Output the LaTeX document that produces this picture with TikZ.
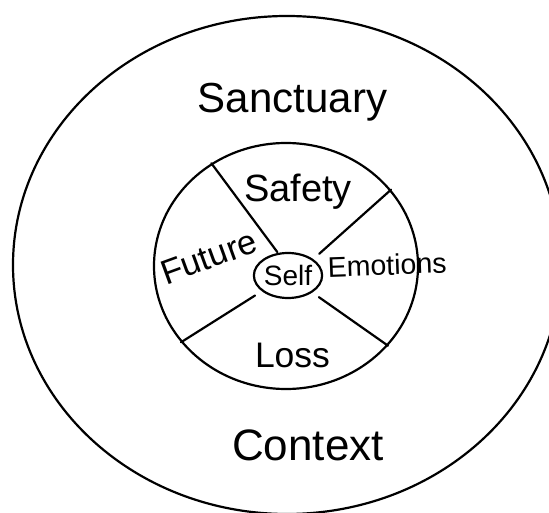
\documentclass[tikz,border=0pt]{standalone}
\usepackage{fontspec}
\setmainfont{Liberation Sans}
\usepackage{tikz}
\usetikzlibrary{positioning,shapes.geometric}
\tikzset{
  ring/.style={draw,ellipse,line width=2.2pt,inner sep=0pt},
  spoke/.style={line width=2.2pt,line cap=round},
  word/.style={anchor=base,inner sep=0pt},
}
\newcommand{\fsize}[1]{\fontsize{#1}{#1}\selectfont}

\begin{document}
\begin{tikzpicture}[x=1pt,y=1pt]
\useasboundingbox (0,0) rectangle (549,512);
\clip (0,0) rectangle (549,512);
% the three rings
\node[ring, minimum width=548pt, minimum height=498pt] (outer) at (287,247) {};
\node[ring, minimum width=264pt, minimum height=246pt] (wheel) at (286,246) {};
\node[ring, minimum width=68pt, minimum height=45pt, font=\fsize{28}] (self) at (288,236.5) {Self};
% spokes of the wheel
\draw[spoke, shorten <=1pt] (self.114) -- (wheel.126);
\draw[spoke, shorten <=8pt] (self.33) -- (wheel.36);
\draw[spoke, shorten <=8pt] (self.211) -- (wheel.216);
\draw[spoke, shorten <=8pt] (self.325) -- (wheel.322);
% labels
\node[word, font=\fsize{42}] (sanctuary) at (292.5,399) {Sanctuary};
\node[word, font=\fsize{38}] (safety) at (298,310) {Safety};
\node[word, font=\fsize{34.5}, rotate=20] (future) at (213,244) {Future};
\node[word, font=\fsize{28.5}, rotate=2] (emotions) at (387.5,237) {Emotions};
\node[word, font=\fsize{35.5}] (loss) at (292.5,145) {Loss};
\node[word, font=\fsize{44}] (context) at (308,52) {Context};
\end{tikzpicture}
\end{document}
